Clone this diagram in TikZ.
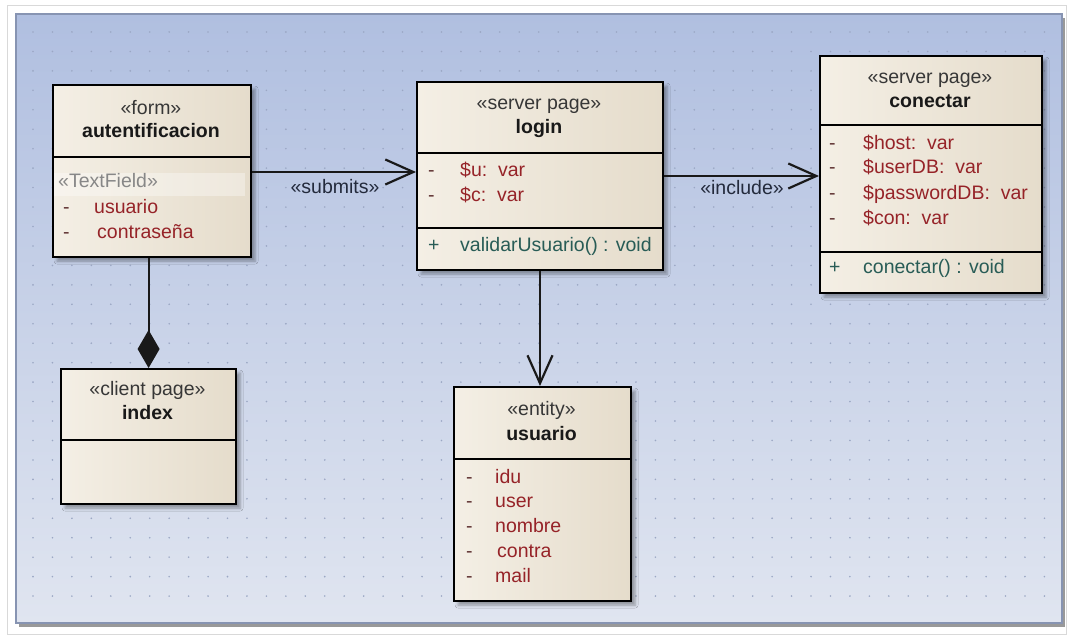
\documentclass[tikz,border=0pt]{standalone}
\usepackage{fontspec}
\setmainfont{Liberation Sans}
\usetikzlibrary{arrows.meta,shadows.blur}

\definecolor{panelTop}{RGB}{176,191,224}
\definecolor{panelBot}{RGB}{224,229,240}
\definecolor{panelEdge}{RGB}{135,148,178}
\definecolor{boxL}{RGB}{244,239,229}
\definecolor{boxR}{RGB}{229,220,203}
\definecolor{attr}{RGB}{150,35,40}
\definecolor{attrdash}{RGB}{95,50,50}
\definecolor{oper}{RGB}{40,92,86}
\definecolor{stereo}{RGB}{55,55,55}
\definecolor{dotc}{RGB}{155,167,196}
\definecolor{lbl}{RGB}{35,42,60}
\definecolor{tfgray}{RGB}{135,135,135}

\newcommand{\umlfont}{\fontsize{19.5}{22}\selectfont}

\tikzset{
  classbox/.style={rectangle, draw=black, line width=2.2pt, anchor=north west,
    inner sep=0pt, left color=boxL, right color=boxR,
    blur shadow={shadow xshift=4pt, shadow yshift=-4pt, shadow opacity=35,
      shadow blur radius=3pt}},
  divider/.style={line width=2.2pt},
  stereotype/.style={anchor=mid, inner sep=0pt, text=stereo, font=\umlfont},
  classname/.style={anchor=mid, inner sep=0pt, text=black!90, font=\umlfont\bfseries},
  visattr/.style={anchor=mid west, inner sep=0pt, text=attrdash, font=\umlfont},
  visop/.style={anchor=mid west, inner sep=0pt, text=oper, font=\umlfont},
  attrtext/.style={anchor=mid west, inner sep=0pt, text=attr, font=\umlfont},
  optext/.style={anchor=mid west, inner sep=0pt, text=oper, font=\umlfont},
  tagtext/.style={anchor=mid west, inner sep=0pt, text=tfgray, font=\umlfont},
  conn/.style={line width=2.2pt, draw=black!90},
  openarrow/.style={conn, -{Straight Barb[length=28pt,width=25pt,line width=2.2pt]}},
  composition/.style={conn, -{Diamond[length=38pt,width=22pt]}},
  connlabel/.style={anchor=mid, inner sep=0pt, text=lbl, font=\umlfont},
}

\begin{document}
\begin{tikzpicture}[x=1pt,y=-1pt]
\useasboundingbox (0,0) rectangle (1067,636);

% outer frame and canvas
\fill[white] (0,0) rectangle (1067,636);
\draw[black!15, line width=1pt] (7,6) rectangle (1066,634);
\fill[black!40] (19,18) rectangle (1065,627);
\path[draw=panelEdge, line width=1.2pt, top color=panelTop, bottom color=panelBot]
  (16,14) rectangle (1062,623);

% dot grid
\foreach \i in {0,...,52}{
  \foreach \j in {0,...,29}{
    \fill[dotc] ({33+19.45*\i},{32+19.45*\j}) circle (0.9pt);
  }
}

% ---- autentificacion
\node[classbox, minimum width=198pt, minimum height=172pt] (auth) at (52,84) {};
\draw[divider] (auth.west |- 0,157) -- (auth.east |- 0,157);
\fill[white, opacity=0.35] (54,173) rectangle (245,196);
\node[stereotype] (auth-st) at (151,112) {«form»};
\node[classname] (auth-name) at (151,135) {autentificacion};
\node[tagtext] (auth-tag) at (58,185) {«TextField»};
\node[visattr] (auth-v1) at (63,211) {-};
\node[attrtext] (auth-a1) at (94,211) {usuario};
\node[visattr] (auth-v2) at (63,236) {-};
\node[attrtext] (auth-a2) at (97,236) {contraseña};

% ---- login
\node[classbox, minimum width=246pt, minimum height=188pt] (login) at (416,81) {};
\draw[divider] (login.west |- 0,153) -- (login.east |- 0,153);
\draw[divider] (login.west |- 0,228) -- (login.east |- 0,228);
\node[stereotype] (login-st) at (539,107) {«server page»};
\node[classname] (login-name) at (539,131) {login};
\node[visattr] (login-v1) at (428,174) {-};
\node[attrtext] (login-a1) at (460,174) {\$u:\ \ var};
\node[visattr] (login-v2) at (428,199) {-};
\node[attrtext] (login-a2) at (460,199) {\$c:\ \ var};
\node[visop] (login-v3) at (428,249) {+};
\node[optext] (login-o1) at (460,249) {validarUsuario() : void};

% ---- conectar
\node[classbox, minimum width=222pt, minimum height=237pt] (conec) at (819,55) {};
\draw[divider] (conec.west |- 0,125) -- (conec.east |- 0,125);
\draw[divider] (conec.west |- 0,252) -- (conec.east |- 0,252);
\node[stereotype] (conec-st) at (930,81) {«server page»};
\node[classname] (conec-name) at (930,105) {conectar};
\node[visattr] (conec-v1) at (829,147) {-};
\node[attrtext] (conec-a1) at (863,147) {\$host:\ \ var};
\node[visattr] (conec-v2) at (829,171) {-};
\node[attrtext] (conec-a2) at (863,171) {\$userDB:\ \ var};
\node[visattr] (conec-v3) at (829,197) {-};
\node[attrtext] (conec-a3) at (863,197) {\$passwordDB:\ \ var};
\node[visattr] (conec-v4) at (829,222) {-};
\node[attrtext] (conec-a4) at (863,222) {\$con:\ \ var};
\node[visop] (conec-v5) at (829,271) {+};
\node[optext] (conec-o1) at (863,271) {conectar() : void};

% ---- index
\node[classbox, minimum width=175pt, minimum height=135pt] (index) at (60,368) {};
\draw[divider] (index.west |- 0,440) -- (index.east |- 0,440);
\node[stereotype] (index-st) at (147.5,393) {«client page»};
\node[classname] (index-name) at (147.5,417) {index};

% ---- usuario
\node[classbox, minimum width=177pt, minimum height=214pt] (user) at (453,386) {};
\draw[divider] (user.west |- 0,459) -- (user.east |- 0,459);
\node[stereotype] (user-st) at (541.5,413) {«entity»};
\node[classname] (user-name) at (541.5,438) {usuario};
\node[visattr] (user-v1) at (466,481) {-};
\node[attrtext] (user-a1) at (495,481) {idu};
\node[visattr] (user-v2) at (466,505) {-};
\node[attrtext] (user-a2) at (495,505) {user};
\node[visattr] (user-v3) at (466,530) {-};
\node[attrtext] (user-a3) at (495,530) {nombre};
\node[visattr] (user-v4) at (466,555) {-};
\node[attrtext] (user-a4) at (497,555) {contra};
\node[visattr] (user-v5) at (466,580) {-};
\node[attrtext] (user-a5) at (495,580) {mail};

% ---- connectors
\draw[openarrow] (auth.east |- 0,172) -- (login.west |- 0,172);
\node[connlabel] (lbl-submits) at (335,191) {«submits»};
\draw[openarrow] (login.east |- 0,176) -- (conec.west |- 0,176);
\node[connlabel] (lbl-include) at (742,192) {«include»};
\draw[openarrow] (login.south -| 540,0) -- (user.north -| 540,0);
\draw[composition] (auth.south -| index.north) -- (index.north);
\end{tikzpicture}
\end{document}
